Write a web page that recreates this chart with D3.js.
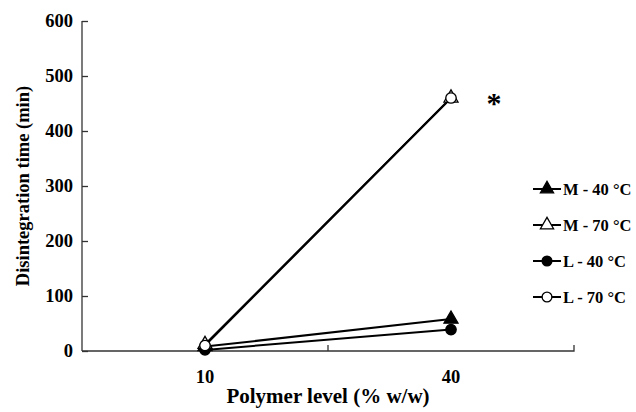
<!DOCTYPE html>
<html><head><meta charset="utf-8">
<script src="https://cdn.jsdelivr.net/npm/d3@7"></script>
<style>body{margin:0;background:#fff}svg{display:block}text{font-family:"Liberation Serif","Times New Roman",serif;font-weight:bold;fill:#000}</style>
</head><body>
<svg id="c" width="636" height="412"></svg>
<script>
const categories = ["10", "40"];
const seriesNames = ["M - 40 °C", "M - 70 °C", "L - 40 °C", "L - 70 °C"];
const mValues40 = [8, 58];
const mValues70 = [12, 460];
const lValues40 = [2, 39];
const lValues70 = [10, 460];
const yTicks = [0, 100, 200, 300, 400, 500, 600];

const series = [
  {name: seriesNames[0], values: mValues40, shape: "triangle", filled: true},
  {name: seriesNames[1], values: mValues70, shape: "triangle", filled: false},
  {name: seriesNames[2], values: lValues40, shape: "circle", filled: true},
  {name: seriesNames[3], values: lValues70, shape: "circle", filled: false}
];

const svg = d3.select("#c");
const pL = 82, pR = 574, pT = 21, pB = 351;
const x = d3.scaleBand().domain(categories).range([pL, pR]);
const y = d3.scaleLinear().domain([0, 600]).range([pB, pT]);

// y axis (ticks point inward)
const ya = svg.append("g").attr("transform", `translate(${pL},0)`)
  .call(d3.axisLeft(y).tickValues(yTicks).tickSize(-6).tickPadding(9));
ya.select(".domain").attr("stroke", "#333").attr("stroke-width", 1.3).attr("d", `M0,${pT}V${pB}`);
ya.selectAll(".tick line").attr("stroke", "#333").attr("stroke-width", 1.3);
ya.selectAll(".tick text").attr("x", -9).style("font-size", "18.5px").style("font-family", "Liberation Serif").style("font-weight", "bold");

// x axis
const xa = svg.append("g").attr("transform", `translate(0,${pB})`)
  .call(d3.axisBottom(x).tickSize(0).tickPadding(19));
xa.select(".domain").attr("stroke", "#333").attr("stroke-width", 1.3).attr("d", `M${pL},0H${pR}V-6`);
xa.selectAll(".tick text").style("font-size", "18.5px").style("font-family", "Liberation Serif").style("font-weight", "bold");
// category boundary ticks (inside)
svg.append("g").selectAll("line").data(categories.slice(1)).join("line")
  .attr("x1", d => x(d)).attr("x2", d => x(d))
  .attr("y1", pB).attr("y2", pB - 6)
  .attr("stroke", "#333").attr("stroke-width", 1.3);

// titles
svg.append("text").attr("x", 328).attr("y", 403).attr("text-anchor", "middle")
  .style("font-size", "21px").text("Polymer level (% w/w)");
svg.append("text").attr("transform", `translate(29,${(pT + pB) / 2}) rotate(-90)`)
  .attr("text-anchor", "middle").style("font-size", "18.5px").text("Disintegration time (min)");

const cx = d => x(d) + x.bandwidth() / 2;
const line = d3.line().x((v, i) => cx(categories[i])).y(v => y(v));

function marker(g, s, size) {
  if (s.shape === "triangle") {
    g.append("path").attr("d", d3.symbol(d3.symbolTriangle, size)())
      .attr("fill", s.filled ? "#000" : "#fff").attr("stroke", "#000").attr("stroke-width", 1.3);
  } else {
    g.append("circle").attr("r", Math.sqrt(size / Math.PI))
      .attr("fill", s.filled ? "#000" : "#fff").attr("stroke", "#000").attr("stroke-width", 1.3);
  }
}

series.forEach(s => {
  svg.append("path").datum(s.values).attr("d", line)
    .attr("fill", "none").attr("stroke", "#000").attr("stroke-width", 2);
});
series.forEach(s => {
  s.values.forEach((v, i) => {
    const g = svg.append("g").attr("transform", `translate(${cx(categories[i])},${y(v)})`);
    marker(g, s, 85);
  });
});

// asterisk
svg.append("text").attr("x", 494).attr("y", 113).attr("text-anchor", "middle")
  .style("font-size", "30px").text("*");

// legend
const legY = [189, 225, 261, 297];
series.forEach((s, i) => {
  const g = svg.append("g").attr("transform", `translate(547,${legY[i]})`);
  g.append("line").attr("x1", -14).attr("x2", 14).attr("stroke", "#000").attr("stroke-width", 2);
  marker(g, s, 75);
  g.append("text").attr("x", 16).attr("y", 5.5).style("font-size", "16.5px").text(s.name);
});
</script>
</body></html>
